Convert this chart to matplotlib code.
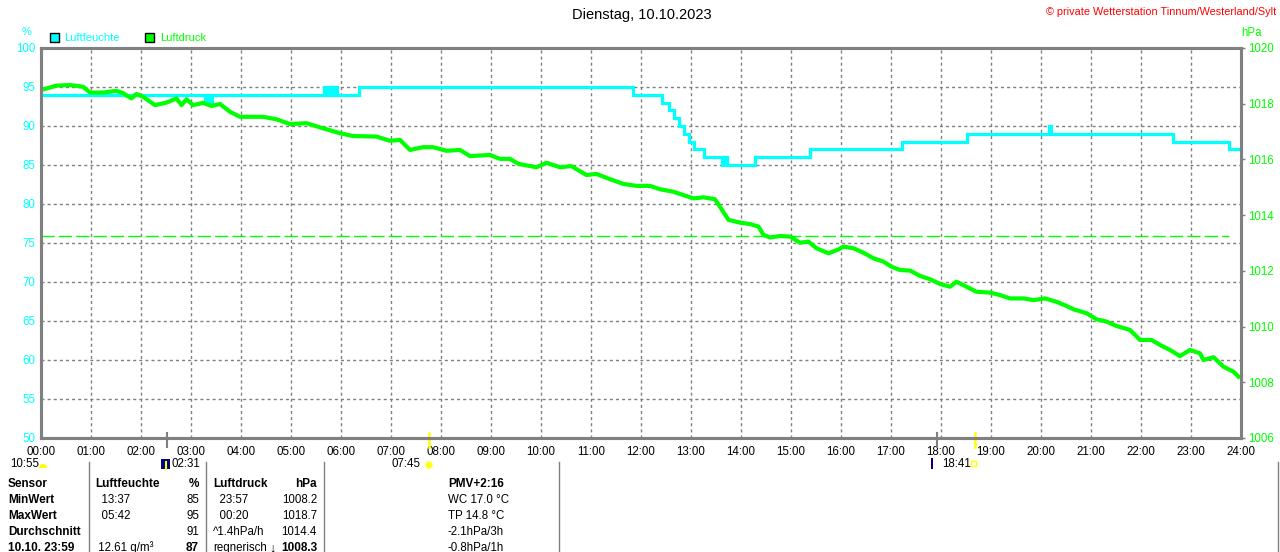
import matplotlib
matplotlib.use('Agg')
import matplotlib.pyplot as plt
from matplotlib.patches import Rectangle, Wedge, Circle

plt.rcParams['font.family'] = ['Liberation Sans', 'DejaVu Sans']

# ---- data ----
hours = list(range(25))
hour_labels = ['%02d:00' % h for h in hours]

# Luftfeuchte (%), step values
rh_time = [0.0, 3.28, 3.32, 3.36, 3.41, 5.65, 5.72, 5.76, 5.82, 5.86, 5.91, 6.35,
           11.84, 12.41, 12.55, 12.65, 12.75, 12.85, 12.95, 13.05, 13.25, 13.62,
           13.66, 13.71, 14.28, 15.38, 17.21, 18.51, 20.15, 20.19, 22.63, 23.75, 24.0]
rh_val = [94, 93, 94, 93, 94, 95, 94, 95, 94, 95, 94, 95,
          94, 93, 92, 91, 90, 89, 88, 87, 86, 85,
          86, 85, 86, 87, 88, 89, 90, 89, 88, 87, 87]

# Luftdruck (hPa)
p_time = [0.0, 0.31, 0.58, 0.84, 0.98, 1.24, 1.51, 1.64, 1.81, 1.91, 2.04, 2.28,
          2.51, 2.71, 2.81, 2.91, 3.04, 3.24, 3.41, 3.58, 3.78, 3.98, 4.18, 4.44,
          4.71, 4.98, 5.31, 5.58, 5.98, 6.24, 6.71, 6.98, 7.18, 7.38, 7.64, 7.84,
          8.11, 8.38, 8.58, 8.98, 9.18, 9.38, 9.55, 9.91, 10.11, 10.38, 10.61, 10.71,
          10.91, 11.11, 11.38, 11.65, 11.91, 12.18, 12.38, 12.65, 12.85, 13.05, 13.25,
          13.48, 13.58, 13.75, 13.98, 14.18, 14.35, 14.45, 14.58, 14.78, 14.98, 15.18,
          15.35, 15.51, 15.75, 15.95, 16.05, 16.25, 16.45, 16.65, 16.85, 17.01, 17.18,
          17.38, 17.58, 17.78, 17.98, 18.18, 18.31, 18.51, 18.71, 18.98, 19.18, 19.38,
          19.65, 19.85, 20.08, 20.31, 20.51, 20.65, 20.91, 21.11, 21.31, 21.51, 21.78,
          21.98, 22.21, 22.38, 22.58, 22.78, 22.98, 23.18, 23.25, 23.45, 23.65, 23.85,
          23.95]
p_val = [1018.49, 1018.65, 1018.67, 1018.61, 1018.40, 1018.40, 1018.46, 1018.38,
         1018.19, 1018.35, 1018.25, 1017.95, 1018.04, 1018.19, 1017.95, 1018.16,
         1017.95, 1018.03, 1017.92, 1017.99, 1017.71, 1017.53, 1017.53, 1017.53,
         1017.44, 1017.27, 1017.30, 1017.15, 1016.94, 1016.84, 1016.82, 1016.67,
         1016.70, 1016.34, 1016.44, 1016.44, 1016.31, 1016.34, 1016.12, 1016.16,
         1016.02, 1016.02, 1015.84, 1015.72, 1015.88, 1015.72, 1015.76, 1015.65,
         1015.44, 1015.48, 1015.29, 1015.12, 1015.05, 1015.05, 1014.93, 1014.84,
         1014.72, 1014.60, 1014.64, 1014.57, 1014.30, 1013.83, 1013.73, 1013.68,
         1013.59, 1013.29, 1013.20, 1013.25, 1013.23, 1013.01, 1013.05, 1012.81,
         1012.63, 1012.77, 1012.87, 1012.81, 1012.65, 1012.45, 1012.33, 1012.15,
         1012.03, 1012.01, 1011.82, 1011.70, 1011.53, 1011.43, 1011.61, 1011.43,
         1011.25, 1011.22, 1011.13, 1011.01, 1011.01, 1010.95, 1011.01, 1010.89,
         1010.74, 1010.62, 1010.48, 1010.26, 1010.18, 1010.02, 1009.88, 1009.52,
         1009.52, 1009.34, 1009.16, 1008.94, 1009.16, 1009.04, 1008.80, 1008.90,
         1008.56, 1008.38, 1008.20]

p_normal = 1013.25
sun_times = [7.75, 18.683]
moon_times = [2.517, 17.92]

table_rows = [
    ['Sensor', 'Luftfeuchte', '%', 'Luftdruck', 'hPa', 'PMV+2:16'],
    ['MinWert', '  13:37', '85', '  23:57', '1008.2', 'WC 17.0 °C'],
    ['MaxWert', '  05:42', '95', '  00:20', '1018.7', 'TP 14.8 °C'],
    ['Durchschnitt', '', '91', '^1.4hPa/h', '1014.4', '-2.1hPa/3h'],
    ['10.10. 23:59', ' 12.61 g/m³', '87', 'regnerisch', '1008.3', '-0.8hPa/1h'],
]

CYAN = '#00ffff'
GREEN = '#00ff00'
GREY = '#808080'

fig = plt.figure(figsize=(12.8, 5.52), dpi=100)
W, H = 1280, 552
ax1 = fig.add_axes([41 / W, 114 / H, 1200 / W, 390 / H])
ax1.set_xlim(0, 24)
ax1.set_ylim(50, 100)
ax1.set_xticks(hours)
ax1.set_xticklabels(hour_labels)
ax1.set_yticks(range(50, 101, 5))
ax1.grid(True, color=GREY, linestyle=(0, (2.2, 2.2)), linewidth=1)
ax1.tick_params(axis='x', length=0, pad=6, labelsize=8.3, labelcolor='black')
ax1.tick_params(axis='y', length=0, pad=4, labelsize=8.3, labelcolor=CYAN)
ax1.step(rh_time, rh_val, where='post', color=CYAN, lw=2.3, solid_joinstyle='miter')

ax2 = ax1.twinx()
ax2.set_ylim(1006, 1020)
ax2.set_yticks(range(1006, 1021, 2))
ax2.tick_params(axis='y', length=3, width=1, color=GREY, pad=2, labelsize=8.3, labelcolor=GREEN)
ax2.axhline(p_normal, xmax=0.99, color=GREEN, lw=1, dashes=(9.5, 3))
ax2.plot(p_time, p_val, color=GREEN, lw=3)

for ax in (ax1, ax2):
    for s in ax.spines.values():
        s.set_color(GREY)
        s.set_linewidth(2.2)

# sun / moon marks on the time axis
tr = ax1.get_xaxis_transform()
for t in moon_times:
    ax1.plot([t, t], [0.013, -0.023], transform=tr, color=GREY, lw=1.5, clip_on=False)
for t in sun_times:
    ax1.plot([t, t], [0.013, -0.023], transform=tr, color='#ffff00', lw=1.8, clip_on=False)

# overlay in pixel coordinates for texts and icons
ov = fig.add_axes([0, 0, 1, 1])
ov.set_xlim(0, W)
ov.set_ylim(H, 0)
ov.axis('off')

ov.text(642, 15, 'Dienstag, 10.10.2023', ha='center', va='center', fontsize=10.5)
ov.text(1276, 12, '© private Wetterstation Tinnum/Westerland/Sylt', ha='right',
        va='center', fontsize=7.8, color='#ff0000')
ov.text(27, 32, '%', ha='center', va='center', fontsize=8, color=CYAN)
ov.text(1251, 33, 'hPa', ha='center', va='center', fontsize=8.3, color=GREEN)

ov.add_patch(Rectangle((50, 33), 9, 9, facecolor=CYAN, edgecolor='black', lw=1))
ov.text(64, 38, 'Luftfeuchte', va='center', fontsize=8, color=CYAN)
ov.add_patch(Rectangle((145, 33), 9, 9, facecolor=GREEN, edgecolor='black', lw=1))
ov.text(160, 38, 'Luftdruck', va='center', fontsize=8, color=GREEN)

# rise / set labels below the axis
ov.text(10, 464, '10:55', va='center', fontsize=8.3)
ov.add_patch(Wedge((43, 468), 4, 180, 360, facecolor='#ffff00', edgecolor='none'))
ov.add_patch(Rectangle((161, 459), 9, 10, facecolor='#000080', edgecolor='none'))
ov.plot([166, 166], [462, 469], color='#ffff00', lw=1.5)
ov.text(172, 464, '02:31', va='center', fontsize=8.3)
ov.text(421, 464, '07:45', ha='right', va='center', fontsize=8.3)
ov.add_patch(Circle((429, 465), 3.5, facecolor='#ffff00', edgecolor='#ffff80', lw=1))
ov.add_patch(Rectangle((931, 458), 2, 11, facecolor='#000080', edgecolor='none'))
ov.text(942, 464, '18:41', va='center', fontsize=8.3)
ov.add_patch(Rectangle((971, 461), 5, 5, facecolor='none', edgecolor='#ffff00', lw=1))

# table
for x in [89, 206, 324, 559, 1278]:
    ov.plot([x, x], [462, H], color=GREY, lw=1)

col_x = [8, 95, 199, 213, 317, 448]
col_ha = ['left', 'left', 'right', 'left', 'right', 'left']
for r, row in enumerate(table_rows):
    y = 484 + 16 * r
    for c, txt in enumerate(row):
        bold = (r == 0) or (c == 0) or (r == 4 and c in (2, 4))
        ov.text(col_x[c], y, txt, ha=col_ha[c], va='center',
                fontsize=8.5 if bold else 8.3,
                fontweight='bold' if bold else 'normal')
ov.text(272, 548, '↓', ha='center', va='center', fontsize=9, fontweight='bold')

fig.savefig('out.png', dpi=100)
